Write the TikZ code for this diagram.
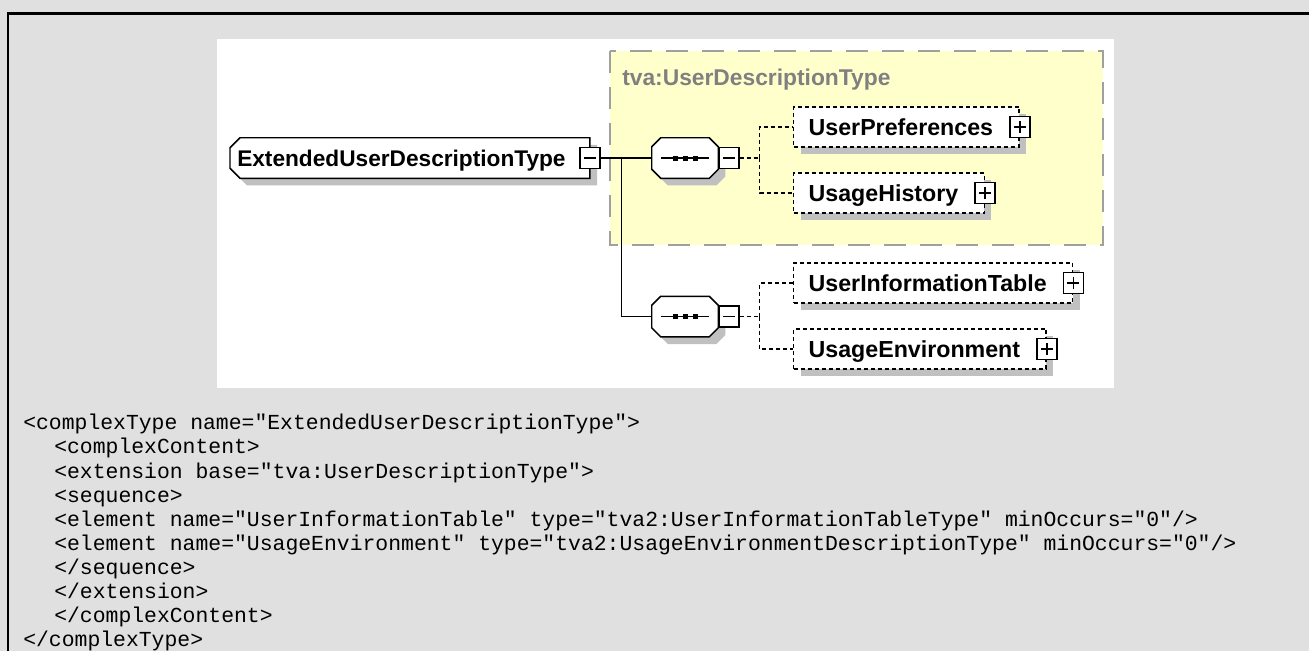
\documentclass[tikz,border=0pt]{standalone}
\usepackage{fontspec}
\setsansfont{Liberation Sans}
\setmonofont{Liberation Mono}[Ligatures=TeXOff]
\usetikzlibrary{shadows, calc, positioning, backgrounds}
\definecolor{pagegray}{RGB}{224,224,224}
\definecolor{basefill}{RGB}{255,255,204}
\definecolor{basestroke}{RGB}{160,160,160}
\definecolor{basetext}{RGB}{128,128,128}
\definecolor{shadowgray}{RGB}{192,192,192}
\tikzset{
  elshadow/.style={drop shadow={shadow xshift=5.4pt, shadow yshift=-5.4pt, fill=shadowgray, opacity=1}},
  elfont/.style={font=\sffamily\bfseries\fontsize{#1}{20}\selectfont},
  elfont/.default=17.4,
  typebox/.style={
    rectangle, elfont=17,
    minimum height=30pt, inner xsep=5.25pt, inner ysep=0pt,
    text height=12.2pt, text depth=0pt,
    execute at end node={\hspace*{12.75pt}}
  },
  outline/.style={draw, line width=1.1pt, fill=white, elshadow},
  seqbox/.style={rectangle, minimum width=49.5pt, minimum height=30pt, inner sep=0pt},
  elem/.style={
    rectangle, draw, line width=1pt, dash pattern=on 3pt off 2.25pt,
    fill=white, elshadow, elfont,
    minimum height=30pt, inner xsep=11.25pt, inner ysep=0pt,
    text height=12.5pt, text depth=0pt, anchor=west,
    execute at end node={\hspace*{8.25pt}}
  },
  togglebox/.style={rectangle, draw, solid, line width=1.1pt, fill=white,
    minimum width=15pt, minimum height=15.75pt, inner sep=0pt},
  minusbox/.style={togglebox, path picture={
    \draw[line width=1.1pt] ($(path picture bounding box.center)+(-4.5pt,0)$) -- ++(9pt,0);}},
  plusbox/.style={togglebox, path picture={
    \draw[line width=1.1pt] ($(path picture bounding box.center)+(-4.5pt,0)$) -- ++(9pt,0)
      ($(path picture bounding box.center)+(0,-4.5pt)$) -- ++(0,9pt);}},
  baselabel/.style={font=\sffamily\bfseries\fontsize{17.1}{20}\selectfont, text=basetext, inner sep=0pt},
  codetext/.style={font=\ttfamily\fontsize{16.06}{18.1}\selectfont, align=left, inner sep=0pt},
  link/.style={line width=1.1pt},
  optlink/.style={line width=1pt, dash pattern=on 3pt off 2.25pt},
}
\begin{document}
\begin{tikzpicture}[x=0.75pt, y=-0.75pt]

%% page, frame and panels
\useasboundingbox (0,0) rectangle (1309,651);
\begin{scope}[on background layer]
  \fill[pagegray] (0,0) rectangle (1309,651);
  \draw[line width=1.9pt] (8,651) -- (8,13.5) -- (1309,13.5);
  \fill[white] (217,39) rectangle (1114,388);
  \filldraw[fill=basefill, draw=basestroke, line width=1.5pt,
    dash pattern=on 16.5pt off 10.5pt] (610,51) rectangle (1103,245);
\end{scope}
\node[baselabel, anchor=base west] (baselbl) at (622,85) {tva:UserDescriptionType};

%% complex type
\node[typebox, anchor=west] (ext) at (230,158) {ExtendedUserDescriptionType};
\begin{scope}[on background layer]
  \draw[outline] ($(ext.north west)+(10,0)$) -- (ext.north east) -- (ext.south east)
    -- ($(ext.south west)+(10,0)$) -- ($(ext.south west)+(0,-10)$)
    -- ($(ext.north west)+(0,10)$) -- cycle;
\end{scope}
\node[minusbox] (extminus) at (ext.east) {};

%% sequences
\node[seqbox] (seqbase) at (685,158) {};
\node[seqbox, below=88.5pt of seqbase] (seqext) {};
\foreach \s in {seqbase,seqext}{
  \begin{scope}[on background layer]
    \draw[outline] ($(\s.north west)+(9,0)$) -- ($(\s.north east)+(-9,0)$)
      -- ($(\s.north east)+(0,9)$) -- ($(\s.south east)+(0,-9)$)
      -- ($(\s.south east)+(-9,0)$) -- ($(\s.south west)+(9,0)$)
      -- ($(\s.south west)+(0,-9)$) -- ($(\s.north west)+(0,9)$) -- cycle;
  \end{scope}
  \draw[link] ($(\s.center)+(-24,0)$) -- ($(\s.center)+(24,0)$);
  \foreach \dx in {-10,0,10}
    \fill ($(\s.center)+(\dx,0)$) +(-2.5,-2.5) rectangle +(2.5,2.5);
  \node[minusbox, anchor=west] (\s minus) at (\s.east) {};
}

%% child elements
\node[elem] (upref) at (793,127) {UserPreferences};
\node[plusbox] (uprefplus) at (upref.east) {};
\node[elem] (uhist) at (793,193) {UsageHistory};
\node[plusbox] (uhistplus) at (uhist.east) {};
\node[elem] (uinfo) at (793,283) {UserInformationTable};
\node[plusbox] (uinfoplus) at (uinfo.east) {};
\node[elem] (uenv) at (793,349) {UsageEnvironment};
\node[plusbox] (uenvplus) at (uenv.east) {};

%% connectors
\draw[link] (extminus.east) -- (seqbase.west);
\coordinate (fork) at ($(extminus.east)!0.41!(seqbase.west)$);
\draw[link] (fork) |- (seqext.west);
\draw[optlink] (seqbaseminus.east) -- ++(20,0) coordinate (jbase);
\draw[optlink] (jbase) |- (upref.west);
\draw[optlink] (jbase) |- (uhist.west);
\draw[optlink] (seqextminus.east) -- ++(20,0) coordinate (jext);
\draw[optlink] (jext) |- (uinfo.west);
\draw[optlink] (jext) |- (uenv.west);

%% schema source
\node[codetext, anchor=north west] (code) at (23,414) {%
<complexType name="ExtendedUserDescriptionType">\\
\hspace*{23.25pt}<complexContent>\\
\hspace*{23.25pt}<extension base="tva:UserDescriptionType">\\
\hspace*{23.25pt}<sequence>\\
\hspace*{23.25pt}<element name="UserInformationTable" type="tva2:UserInformationTableType" minOccurs="0"/>\\
\hspace*{23.25pt}<element name="UsageEnvironment" type="tva2:UsageEnvironmentDescriptionType" minOccurs="0"/>\\
\hspace*{23.25pt}</sequence>\\
\hspace*{23.25pt}</extension>\\
\hspace*{23.25pt}</complexContent>\\
</complexType>};

\end{tikzpicture}
\end{document}
